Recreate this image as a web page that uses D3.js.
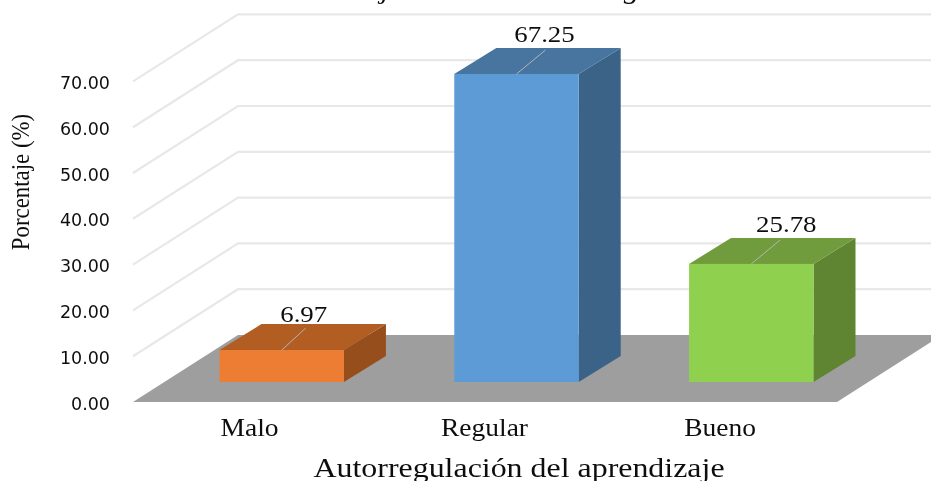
<!DOCTYPE html>
<html><head><meta charset="utf-8">
<script src="https://cdn.jsdelivr.net/npm/d3@7/dist/d3.min.js"></script>
<style>html,body{margin:0;padding:0;background:#fff}svg{display:block}</style>
</head><body><svg id="c" width="931" height="481"></svg>
<script>
const categories = ["Malo","Regular","Bueno"];
const values = [6.97,67.25,25.78];
const valueLabels = ["6.97","67.25","25.78"];
const tickValues = [0,10,20,30,40,50,60,70];
const faceColors = ["#ed7d31","#5b9bd5","#8fd14f"];
const topColors = ["#b25d22","#4674a0","#6f9c3c"];
const sideColors = ["#96501d","#3b6387","#5e8431"];
const xAxisTitle = "Autorregulación del aprendizaje";
const yAxisTitle = "Porcentaje (%)";
const chartTitle = "Porcentaje de estudiantes según nivel";

const svg = d3.select("#c");
const defs = svg.append("defs");
defs.append("filter").attr("id","soft").append("feGaussianBlur").attr("stdDeviation",0.45);
const root = svg.append("g").attr("filter","url(#soft)");
root.append("rect").attr("width",931).attr("height",481).attr("fill","#fff");

const serif = "'Liberation Serif','Times New Roman',serif";
const dx = 105, dy = -67;         // wall/floor depth
const bdx = 42, bdy = -26;        // bar depth
const floorY = 402, floorL = 133, floorR = 837, barLift = 20;
const y = d3.scaleLinear().domain([0,70]).range([floorY, floorY-320.6]);
const x = d3.scaleBand().domain(categories).range([219.5,813.5]).paddingInner(0.47).paddingOuter(0);

// small per-label placement offsets relative to the bar
const labelDx = [22,28,35], labelDy = [-28,-32,-32];
const leadDx = [24,29,29], leadDy = [-22,-24,-24];
const catCx = [249.5,484.5,720];

// floor
root.append("polygon").attr("fill","#9e9e9e")
  .attr("points",[[floorL,floorY],[floorR,floorY],[floorR+dx,floorY+dy],[floorL+dx,floorY+dy]].join(" "));

// grid (skip floor line)
const grid = root.append("g").attr("fill","none").attr("stroke","#e8e8e8").attr("stroke-width",2.2);
tickValues.filter(d=>d>0).forEach(t=>{
  grid.append("path").attr("d",d3.line()([[floorL,y(t)],[floorL+dx,y(t)+dy],[931,y(t)+dy]]));
});

// tick labels
root.append("g").selectAll("text").data(tickValues).join("text")
  .attr("x",110).attr("y",d=>y(d)+7.5).attr("text-anchor","end")
  .attr("font-family","'DejaVu Sans',sans-serif").attr("font-size",17.5).attr("fill","#111")
  .text(d=>d3.format(".2f")(d));

// bars
const barW = x.bandwidth();
root.append("g").selectAll("g").data(categories).join("g").each(function(c,i){
  const g = d3.select(this), l = x(c), r = l+barW;
  const b = floorY-barLift, h = floorY-y(values[i]), t = b-h;
  g.append("polygon").attr("fill",sideColors[i]).attr("points",[[r,b],[r+bdx,b+bdy],[r+bdx,t+bdy],[r,t]].join(" "));
  g.append("polygon").attr("fill",topColors[i]).attr("points",[[l,t],[r,t],[r+bdx,t+bdy],[l+bdx,t+bdy]].join(" "));
  g.append("rect").attr("fill",faceColors[i]).attr("x",l).attr("y",t).attr("width",barW).attr("height",h);
  const cx = l+barW/2;
  g.append("line").attr("stroke","#b5b5b5").attr("stroke-width",1)
    .attr("x1",cx).attr("y1",t).attr("x2",cx+leadDx[i]).attr("y2",t+leadDy[i]);
  g.append("text").attr("transform",`translate(${cx+labelDx[i]},${t+labelDy[i]}) scale(1.12,1)`).attr("text-anchor","middle")
    .attr("font-family",serif).attr("font-size",24).attr("fill","#111").text(valueLabels[i]);
  g.append("text").attr("transform",`translate(${catCx[i]},436) scale(1.1,1)`).attr("text-anchor","middle")
    .attr("font-family",serif).attr("font-size",25).attr("fill","#111").text(c);
});

root.append("text").attr("transform","translate(519,476.5) scale(1.14,1)").attr("text-anchor","middle")
  .attr("font-family",serif).attr("font-size",28).attr("fill","#111").text(xAxisTitle);
root.append("text").attr("transform","translate(29,182) rotate(-90) scale(0.88,1)").attr("text-anchor","middle")
  .attr("font-family",serif).attr("font-size",26).attr("fill","#111").text(yAxisTitle);

// title: cut off by the top edge, only descenders show
const titleScale = 1.12;
const title = root.append("text")
  .attr("font-family",serif).attr("font-style","italic").attr("font-size",28).attr("fill","#111").text(chartTitle);
const jStart = title.node().getSubStringLength(0, chartTitle.indexOf("j")) * titleScale;
title.attr("transform",`translate(${381-jStart},-2) scale(${titleScale},1)`);
</script></body></html>
